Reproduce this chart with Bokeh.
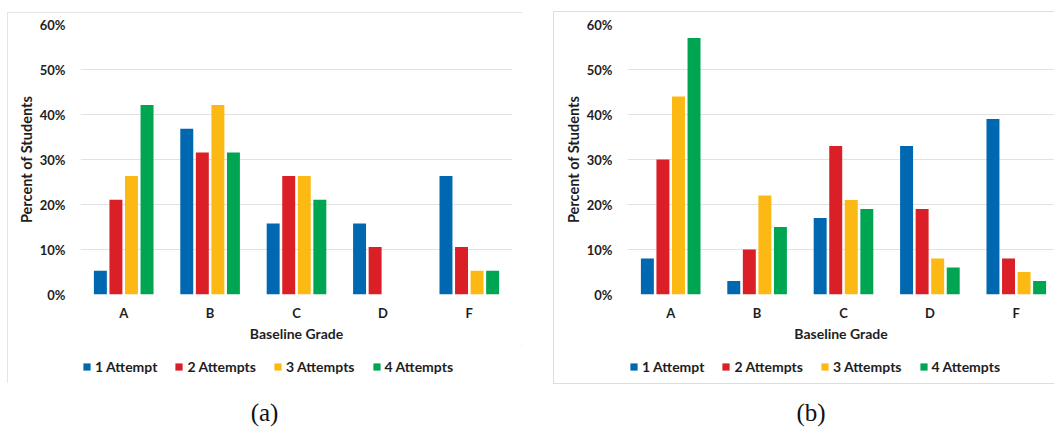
from bokeh.plotting import figure
from bokeh.layouts import row, column
from bokeh.models import (Range1d, FixedTicker, Legend, LegendItem, Div,
                          ColumnDataSource, PrintfTickFormatter)
from bokeh.transform import dodge
from bokeh.embed import file_html
from bokeh.resources import INLINE

# Baseline grade categories and attempt series
grades = ["A", "B", "C", "D", "F"]
attempt_labels = ["1 Attempt", "2 Attempts", "3 Attempts", "4 Attempts"]
attempt_colors = ["#0067B1", "#DB1F27", "#FDB913", "#00A551"]

# Panel (a): percent of students per baseline grade
a_one = [5.26, 36.84, 15.79, 15.79, 26.32]
a_two = [21.05, 31.58, 26.32, 10.53, 10.53]
a_three = [26.32, 42.11, 26.32, 0.0, 5.26]
a_four = [42.11, 31.58, 21.05, 0.0, 5.26]

# Panel (b): percent of students per baseline grade
b_one = [8, 3, 17, 33, 39]
b_two = [30, 10, 33, 19, 8]
b_three = [44, 22, 21, 8, 5]
b_four = [57, 15, 19, 6, 3]

pct_ticks = [0, 10, 20, 30, 40, 50, 60]

FONT = "Lato"
TEXT = "#1E1E1E"
GRID = "#E2E2E2"
FRAME = "#DEDEDE"

PX_PER_GRADE = 86.4
CHART_H = 333
LEGEND_H = 38
FRAME_LEFT = 73
OFFSETS = [-0.27, -0.09, 0.09, 0.27]


def make_source(series):
    pos = [i + 0.5 for i in range(len(grades))]
    data = dict(pos=pos, grade=grades)
    for k, vals in enumerate(series):
        data[f"s{k}"] = vals
    return ColumnDataSource(data)


def build_chart(src, width, frame_width):
    pos = src.data["pos"]
    p = figure(width=width, height=CHART_H,
               x_range=Range1d(0, frame_width / PX_PER_GRADE),
               y_range=Range1d(0, 60),
               output_backend="svg", toolbar_location=None,
               min_border_left=FRAME_LEFT,
               min_border_right=width - FRAME_LEFT - frame_width,
               min_border_top=12, min_border_bottom=CHART_H - 12 - 270)
    p.outline_line_color = None

    ya = p.yaxis[0]
    ya.ticker = FixedTicker(ticks=pct_ticks)
    ya.formatter = PrintfTickFormatter(format="%d%%")
    ya.axis_line_color = None
    ya.major_tick_line_color = None
    ya.minor_tick_line_color = None
    ya.major_tick_out = 0
    ya.major_tick_in = 0
    ya.major_label_standoff = 15
    ya.major_label_text_font = FONT
    ya.major_label_text_font_style = "bold"
    ya.major_label_text_font_size = "13px"
    ya.major_label_text_color = TEXT
    ya.axis_label = "Percent of Students"
    ya.axis_label_text_font = FONT
    ya.axis_label_text_font_style = "bold"
    ya.axis_label_text_font_size = "14.5px"
    ya.axis_label_text_color = TEXT
    ya.axis_label_standoff = 2

    xa = p.xaxis[0]
    xa.ticker = FixedTicker(ticks=pos)
    xa.major_label_overrides = {x: g for x, g in zip(pos, grades)}
    xa.axis_line_color = None
    xa.major_tick_line_color = None
    xa.minor_tick_line_color = None
    xa.major_tick_out = 0
    xa.major_tick_in = 0
    xa.major_label_standoff = 10
    xa.major_label_text_font = FONT
    xa.major_label_text_font_style = "bold"
    xa.major_label_text_font_size = "13px"
    xa.major_label_text_color = TEXT
    xa.axis_label = "Baseline Grade"
    xa.axis_label_text_font = FONT
    xa.axis_label_text_font_style = "bold"
    xa.axis_label_text_font_size = "14px"
    xa.axis_label_text_color = TEXT
    xa.axis_label_standoff = 1

    p.xgrid.grid_line_color = None
    p.ygrid.grid_line_color = GRID
    p.ygrid.ticker = FixedTicker(ticks=pct_ticks)

    for k, color in enumerate(attempt_colors):
        p.vbar(x=dodge("pos", OFFSETS[k]), top=f"s{k}", width=0.15,
               source=src, fill_color=color, line_color=None)
    return p


def build_legend_strip(src, width, frame_width):
    # strip below the chart that holds the series key; its bar renderers
    # are hidden and only feed the legend swatches
    p = figure(width=width, height=LEGEND_H, x_range=Range1d(0, 1),
               y_range=Range1d(0, 1), x_axis_type=None, y_axis_type=None,
               output_backend="svg", toolbar_location=None,
               min_border_left=FRAME_LEFT,
               min_border_right=width - FRAME_LEFT - frame_width,
               min_border_top=0, min_border_bottom=0)
    p.outline_line_color = None
    items = []
    for k, (name, color) in enumerate(zip(attempt_labels, attempt_colors)):
        r = p.vbar(x=dodge("pos", OFFSETS[k]), top=f"s{k}", width=0.15,
                   source=src, fill_color=color, line_color=None,
                   visible=False)
        items.append(LegendItem(label=name, renderers=[r]))
    legend = Legend(items=items, location=(2, 8), orientation="horizontal",
                    glyph_width=9, glyph_height=9, label_standoff=4,
                    label_height=9, spacing=17, padding=0, margin=0,
                    border_line_color=None, background_fill_alpha=0,
                    inactive_fill_alpha=0,
                    label_text_font=FONT, label_text_font_style="bold",
                    label_text_font_size="14px", label_text_color=TEXT)
    p.add_layout(legend)
    return p


def build_caption(text, width, left):
    return Div(text=text, width=width, height=28, margin=(16, 0, 0, left),
               styles={"text-align": "center",
                       "font-family": "'Liberation Serif', serif",
                       "font-size": "25px", "line-height": "28px",
                       "color": "#111111"})


def build_panel(series, caption, box_width, frame_width, outline_offset,
                col_width, cap_width, cap_left):
    src = make_source(series)
    box = column(build_chart(src, box_width, frame_width),
                 build_legend_strip(src, box_width, frame_width),
                 width=box_width, margin=(12, 0, 0, 7), spacing=0,
                 styles={"outline": f"1px solid {FRAME}",
                         "outline-offset": outline_offset})
    return column(box, build_caption(caption, cap_width, cap_left),
                  width=col_width, spacing=0)


left_panel = build_panel([a_one, a_two, a_three, a_four], "(a)",
                         515, 432, "-1px", 547, 515, 7)
right_panel = build_panel([b_one, b_two, b_three, b_four], "(b)",
                          500, 427, "0px", 507, 486, 21)

layout = row(left_panel, right_panel, spacing=0)
open("out.html", "w").write(file_html(layout, INLINE))
